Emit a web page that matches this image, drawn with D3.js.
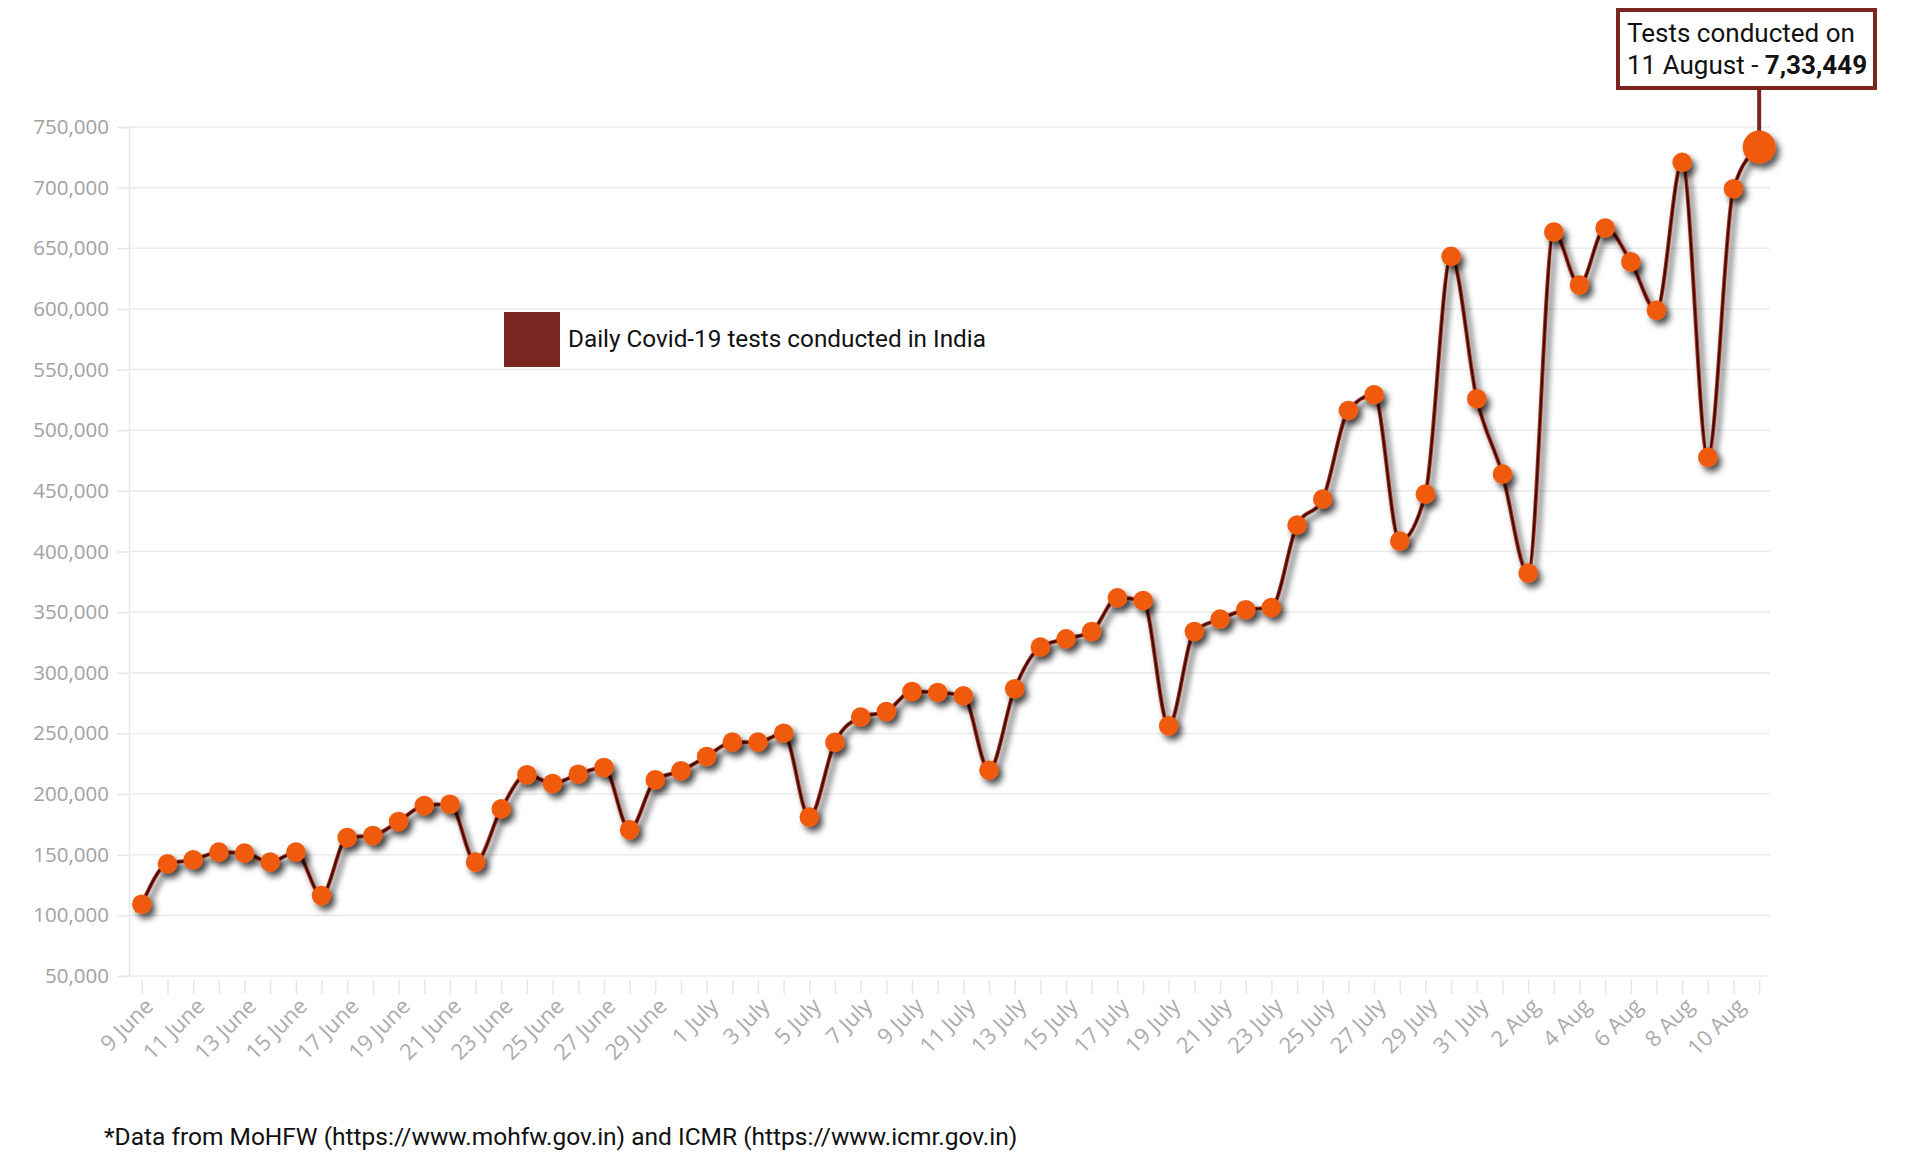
<!DOCTYPE html>
<html>
<head>
<meta charset="utf-8">
<script src="https://cdn.jsdelivr.net/npm/d3@7"></script>
<style>
  html, body { margin: 0; padding: 0; background: #fff; }
  svg { display: block; }
</style>
</head>
<body>
<svg id="chart" width="1920" height="1163"></svg>
<script>
// ---- DATA ----
const dates = [
  "9 June","10 June","11 June","12 June","13 June","14 June","15 June","16 June","17 June","18 June",
  "19 June","20 June","21 June","22 June","23 June","24 June","25 June","26 June","27 June","28 June",
  "29 June","30 June",
  "1 July","2 July","3 July","4 July","5 July","6 July","7 July","8 July","9 July","10 July",
  "11 July","12 July","13 July","14 July","15 July","16 July","17 July","18 July","19 July","20 July",
  "21 July","22 July","23 July","24 July","25 July","26 July","27 July","28 July","29 July","30 July",
  "31 July",
  "1 Aug","2 Aug","3 Aug","4 Aug","5 Aug","6 Aug","7 Aug","8 Aug","9 Aug","10 Aug","11 Aug"
];
const testsConducted = [
  109200, 142500, 145800, 152100, 151300, 143900, 152100, 116300, 164200, 165800,
  177400, 190500, 191600, 143900, 187800, 215900, 208700, 216400, 221900, 170500,
  211700, 219200,
  231000, 242800, 242800, 250200, 181000, 242600, 263500, 268100, 284600, 283800,
  281000, 219700, 286800, 321200, 328000, 334000, 361800, 359600, 256300, 334000,
  344300, 352000, 353800, 421800, 443200, 516300, 529300, 408600, 447300, 643300,
  526000,
  463800, 382200, 663400, 619700, 666700, 638900, 598800, 720800, 477600, 699100, 733449
];
const xTickLabels = [
  "9 June","11 June","13 June","15 June","17 June","19 June","21 June","23 June","25 June","27 June","29 June",
  "1 July","3 July","5 July","7 July","9 July","11 July","13 July","15 July","17 July","19 July",
  "21 July","23 July","25 July","27 July","29 July","31 July",
  "2 Aug","4 Aug","6 Aug","8 Aug","10 Aug"
];
const yTicks = [50000,100000,150000,200000,250000,300000,350000,400000,450000,500000,550000,600000,650000,700000,750000];
const seriesName = "Daily Covid-19 tests conducted in India";
const highlightDate = "11 Aug";
const highlightText1 = "Tests conducted on";
const highlightText2a = "11 August - ";
const highlightText2b = "7,33,449";
const footnote = "*Data from MoHFW (https://www.mohfw.gov.in) and ICMR (https://www.icmr.gov.in)";

// ---- LAYOUT ----
const svg = d3.select("#chart");
const plotLeft = 129, plotRight = 1772, plotTop = 127, plotBottom = 976;
const maroon = "#7b2620";
const orange = "#f05a0c";

const x = d3.scalePoint().domain(dates).range([plotLeft, plotRight]).padding(0.5);
const y = d3.scaleLinear().domain([50000, 750000]).range([plotBottom, plotTop]);

const defs = svg.append("defs");
const f = defs.append("filter").attr("id", "shadow").attr("x", "-20%").attr("y", "-20%").attr("width", "140%").attr("height", "140%");
f.append("feDropShadow").attr("dx", 4).attr("dy", 5).attr("stdDeviation", 3.2)
  .attr("flood-color", "#000").attr("flood-opacity", 0.65);

// gridlines + y axis
const yAxis = d3.axisLeft(y).tickValues(yTicks).tickFormat(d3.format(",")).tickSize(12).tickPadding(8);
const gy = svg.append("g").attr("transform", `translate(${plotLeft},0)`).call(yAxis);
gy.select(".domain").attr("stroke", "#e6e6e6").attr("stroke-width", 1.5);
gy.selectAll(".tick line").attr("stroke", "#e6e6e6").attr("stroke-width", 1.5);
gy.selectAll(".tick text").attr("fill", "#a2a2a2").style("font-family", "'Open Sans', sans-serif").style("font-size", "20.5px");

svg.append("g").selectAll("line").data(yTicks).join("line")
  .attr("x1", plotLeft).attr("x2", 1770)
  .attr("y1", d => y(d)).attr("y2", d => y(d))
  .attr("stroke", "#ececec").attr("stroke-width", 1.6);

// x axis ticks
const xAxis = d3.axisBottom(x).tickSize(14).tickPadding(0).tickFormat(d => xTickLabels.includes(d) ? d : "");
const gx = svg.append("g").attr("transform", `translate(0,${plotBottom + 4})`).call(xAxis);
gx.select(".domain").remove();
gx.selectAll(".tick line").attr("stroke", "#e6e6e6").attr("stroke-width", 1.5);
gx.selectAll(".tick text")
  .attr("fill", "#ababab")
  .style("font-family", "'Open Sans', sans-serif").style("font-size", "22px")
  .attr("text-anchor", "end")
  .attr("transform", "translate(7,22) rotate(-45)")
  .attr("dy", "0.35em").attr("y", 0);

// series
const data = dates.map((d, i) => ({ date: d, value: testsConducted[i] }));
const series = svg.append("g").attr("filter", "url(#shadow)");
const line = d3.line().x(d => x(d.date)).y(d => y(d.value)).curve(d3.curveMonotoneX);
series.append("path").datum(data).attr("d", line)
  .attr("fill", "none").attr("stroke", "#b0321f").attr("stroke-width", 4);
series.append("path").datum(data).attr("d", line)
  .attr("fill", "none").attr("stroke", "#3a0f0a").attr("stroke-width", 2);

// connector for highlight
const hl = data.find(d => d.date === highlightDate);
svg.append("line")
  .attr("x1", x(hl.date)).attr("x2", x(hl.date))
  .attr("y1", 88).attr("y2", y(hl.value))
  .attr("stroke", maroon).attr("stroke-width", 4);

const dots = svg.append("g").attr("filter", "url(#shadow)");
dots.selectAll("circle").data(data).join("circle")
  .attr("cx", d => x(d.date)).attr("cy", d => y(d.value))
  .attr("r", d => d.date === highlightDate ? 16.5 : 9.8)
  .attr("fill", orange);

// legend
svg.append("rect").attr("x", 504).attr("y", 312).attr("width", 56).attr("height", 55).attr("fill", maroon);
svg.append("text").attr("x", 568).attr("y", 347).text(seriesName)
  .attr("fill", "#111").style("font-family", "Roboto, sans-serif").style("font-size", "24.3px");

// annotation box
svg.append("rect").attr("x", 1618).attr("y", 10).attr("width", 257).attr("height", 78)
  .attr("fill", "#fff").attr("stroke", maroon).attr("stroke-width", 4);
const ann = svg.append("text").attr("fill", "#111").style("font-family", "Roboto, sans-serif").style("font-size", "26px");
ann.append("tspan").attr("x", 1627).attr("y", 42).text(highlightText1);
const l2 = ann.append("tspan").attr("x", 1627).attr("y", 74);
l2.append("tspan").text(highlightText2a);
ann.append("tspan").attr("font-weight", "bold").text(highlightText2b);

// footnote
svg.append("text").attr("x", 104).attr("y", 1145).text(footnote)
  .attr("fill", "#111").style("font-family", "Roboto, sans-serif").style("font-size", "24.5px");
</script>
</body>
</html>
